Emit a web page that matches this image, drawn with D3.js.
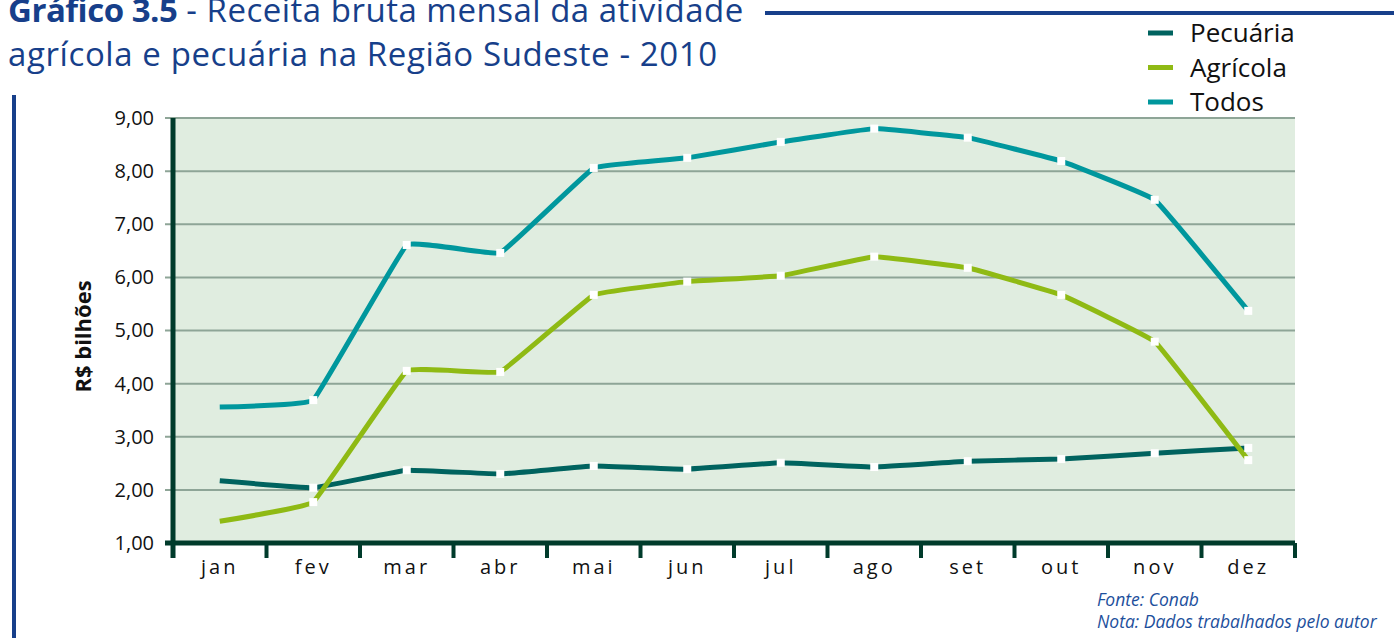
<!DOCTYPE html>
<html>
<head>
<meta charset="utf-8">
<script src="https://cdn.jsdelivr.net/npm/d3@7"></script>
<style>
  body { margin: 0; background: #fff; }
  svg { display: block; font-family: "Open Sans", "Noto Sans", sans-serif; }
</style>
</head>
<body>
<div id="chart"></div>
<script>
const months = ["jan", "fev", "mar", "abr", "mai", "jun", "jul", "ago", "set", "out", "nov", "dez"];
const pecuaria = [2.17, 2.04, 2.37, 2.30, 2.45, 2.39, 2.51, 2.43, 2.54, 2.58, 2.69, 2.79];
const agricola = [1.41, 1.77, 4.24, 4.22, 5.67, 5.92, 6.03, 6.39, 6.18, 5.67, 4.79, 2.56];
const todos    = [3.56, 3.69, 6.61, 6.46, 8.06, 8.25, 8.55, 8.80, 8.63, 8.19, 7.46, 5.37];
const yTicks = [1, 2, 3, 4, 5, 6, 7, 8, 9];

const series = [
    { name: "Pecuária", values: pecuaria, color: "#00635f" },
    { name: "Agrícola", values: agricola, color: "#8fba14" },
    { name: "Todos", values: todos, color: "#00979d" }
];

const width = 1394, height = 638;
const margin = { top: 118, right: 99, bottom: 95, left: 173 };
const innerWidth = width - margin.left - margin.right;
const innerHeight = height - margin.top - margin.bottom;
const blue = "#173f8a";
const axisColor = "#003b2b";

const svg = d3.select("#chart").append("svg")
    .attr("width", width).attr("height", height);

// Moldura azul: linha vertical à esquerda e linha do título
svg.append("line").attr("x1", 14).attr("x2", 14).attr("y1", 95).attr("y2", height)
    .attr("stroke", blue).attr("stroke-width", 4);
svg.append("line").attr("x1", 765).attr("x2", width).attr("y1", 13).attr("y2", 13)
    .attr("stroke", blue).attr("stroke-width", 4);

// Título (primeira linha cortada no topo, como no original)
const title = svg.append("text").attr("fill", blue).style("font-size", "33px");
title.append("tspan").attr("x", 8).attr("y", 22)
    .style("font-weight", "bold").style("letter-spacing", "-0.5px").text("Gráfico 3.5");
title.append("tspan").style("letter-spacing", "0.5px").text(" - Receita bruta mensal da atividade");
svg.append("text").attr("x", 8).attr("y", 66).attr("fill", blue)
    .style("font-size", "33px").style("letter-spacing", "0.6px")
    .text("agrícola e pecuária na Região Sudeste - 2010");

const g = svg.append("g").attr("transform", `translate(${margin.left},${margin.top})`);

const x = d3.scaleBand().domain(months).range([0, innerWidth]);
const y = d3.scaleLinear().domain([1, 9]).range([innerHeight, 0]);

g.append("rect").attr("width", innerWidth).attr("height", innerHeight).attr("fill", "#e0ede0");

// Grade
g.append("g").selectAll("line").data(yTicks.slice(1)).join("line")
    .attr("x1", -8).attr("x2", innerWidth)
    .attr("y1", d => y(d)).attr("y2", d => y(d))
    .attr("stroke", "#8ea597").attr("stroke-width", 2);

// Eixo Y
const yAxis = g.append("g")
    .call(d3.axisLeft(y).tickValues(yTicks).tickSize(0).tickPadding(19)
        .tickFormat(d => d3.format(".2f")(d).replace(".", ",")))
    .attr("font-size", null).attr("font-family", null);
yAxis.select(".domain").remove();
yAxis.selectAll("text").attr("font-size", 20).attr("fill", "#111");

g.append("line").attr("x1", 0).attr("x2", 0).attr("y1", 0).attr("y2", innerHeight + 15)
    .attr("stroke", axisColor).attr("stroke-width", 5);

// Eixo X
const xAxis = g.append("g").attr("transform", `translate(0,${innerHeight})`)
    .call(d3.axisBottom(x).tickSize(0).tickPadding(17))
    .attr("font-size", null).attr("font-family", null);
xAxis.select(".domain").remove();
xAxis.selectAll("text").attr("font-size", 20).attr("letter-spacing", 3).attr("fill", "#111");

g.append("line").attr("x1", -8).attr("x2", innerWidth).attr("y1", innerHeight).attr("y2", innerHeight)
    .attr("stroke", axisColor).attr("stroke-width", 5);
g.append("g").selectAll("line").data(d3.range(months.length + 1)).join("line")
    .attr("x1", i => i * x.step()).attr("x2", i => i * x.step())
    .attr("y1", innerHeight).attr("y2", innerHeight + 15)
    .attr("stroke", axisColor).attr("stroke-width", 4);

// Rótulo do eixo Y
svg.append("text")
    .attr("transform", `translate(91,${margin.top + innerHeight / 2 + 6}) rotate(-90)`)
    .attr("text-anchor", "middle").style("font-size", "22px").style("font-weight", "bold")
    .attr("fill", "#111").text("R$ bilhões");

// Linhas (levemente suavizadas)
const line = d3.line()
    .x((d, i) => x(months[i]) + x.bandwidth() / 2)
    .y(d => y(d))
    .curve(d3.curveCardinal.tension(0.8));

series.forEach(s => {
    g.append("path").datum(s.values)
        .attr("fill", "none").attr("stroke", s.color).attr("stroke-width", 5)
        .attr("d", line);
});

// Marcadores brancos (sem marcador em jan)
series.forEach(s => {
    g.append("g").selectAll("rect").data(s.values.slice(1)).join("rect")
        .attr("x", (d, i) => x(months[i + 1]) + x.bandwidth() / 2 - 4)
        .attr("y", d => y(d) - 4)
        .attr("width", 8).attr("height", 8).attr("fill", "#fff");
});

// Legenda
const legend = svg.append("g").attr("transform", "translate(1148,33)");
series.forEach((s, i) => {
    legend.append("line").attr("x1", 0).attr("x2", 25).attr("y1", i * 34.5).attr("y2", i * 34.5)
        .attr("stroke", s.color).attr("stroke-width", 5);
    legend.append("text").attr("x", 42).attr("y", i * 34.5 + 9)
        .style("font-size", "26px").attr("fill", "#111").text(s.name);
});

// Fonte / nota
const note = svg.append("g").attr("fill", "#1d4f9c").style("font-style", "italic").style("font-size", "17.5px");
note.append("text").attr("x", 1097).attr("y", 606).text("Fonte:  Conab");
note.append("text").attr("x", 1097).attr("y", 628).text("Nota: Dados trabalhados pelo autor");
</script>
</body>
</html>
